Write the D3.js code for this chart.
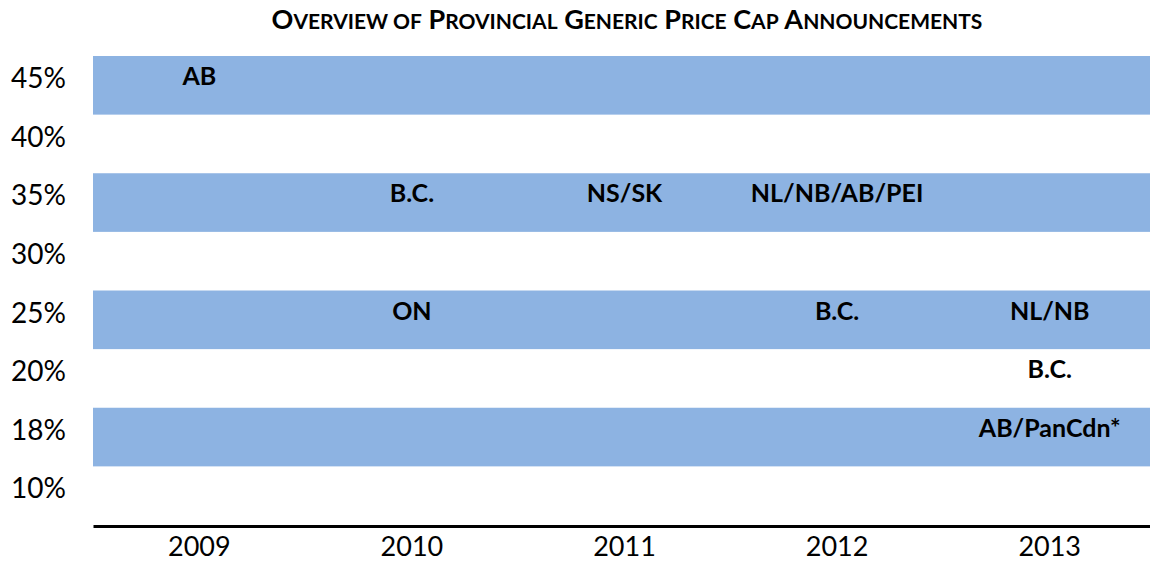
<!DOCTYPE html>
<html>
<head>
<meta charset="utf-8">
<script src="https://cdn.jsdelivr.net/npm/d3@7"></script>
<style>
  body { margin: 0; background: #fff; }
  text { font-family: Lato, "Open Sans", sans-serif; }
</style>
</head>
<body>
<div id="chart"></div>
<script>
const years = ["2009", "2010", "2011", "2012", "2013"];
const capLevels = ["45%", "40%", "35%", "30%", "25%", "20%", "18%", "10%"];
const shadedLevels = ["45%", "35%", "25%", "18%"];
const announcements = [
    { year: "2009", level: "45%", label: "AB" },
    { year: "2010", level: "35%", label: "B.C." },
    { year: "2011", level: "35%", label: "NS/SK" },
    { year: "2012", level: "35%", label: "NL/NB/AB/PEI" },
    { year: "2010", level: "25%", label: "ON" },
    { year: "2012", level: "25%", label: "B.C." },
    { year: "2013", level: "25%", label: "NL/NB" },
    { year: "2013", level: "20%", label: "B.C." },
    { year: "2013", level: "18%", label: "AB/PanCdn*" },
];
const titleWords = ["Overview", "of", "Provincial", "Generic", "Price", "Cap", "Announcements"];

const W = 1150, H = 565;
const svg = d3.select("#chart").append("svg").attr("width", W).attr("height", H);

const x = d3.scaleBand().domain(years).range([93, 1156]);
const y = d3.scaleBand().domain(capLevels).range([56, 525]);

// title in small caps, built by hand
const title = svg.append("text")
    .attr("x", 627)
    .attr("y", 29)
    .attr("text-anchor", "middle")
    .style("font-weight", "bold");
titleWords.forEach((w, i) => {
    const lead = w === "of" ? "" : w[0];
    const rest = (w === "of" ? w : w.slice(1)).toUpperCase();
    if (lead) title.append("tspan").style("font-size", "27px").text((i ? " " : "") + lead);
    title.append("tspan").style("font-size", "21px").text((!lead && i ? " " : "") + rest);
});

svg.append("g")
    .selectAll("rect")
    .data(shadedLevels)
    .enter()
    .append("rect")
    .attr("x", 93)
    .attr("y", (d) => y(d))
    .attr("width", W - 93)
    .attr("height", y.bandwidth())
    .attr("fill", "#8db3e2");

svg.append("g")
    .selectAll("text")
    .data(capLevels)
    .enter()
    .append("text")
    .attr("x", 66)
    .attr("y", (d) => y(d) + y.bandwidth() / 2 - 7)
    .attr("dy", "0.35em")
    .attr("text-anchor", "end")
    .style("font-size", "28px")
    .text((d) => d);

svg.append("g")
    .selectAll("text")
    .data(announcements)
    .enter()
    .append("text")
    .attr("x", (d) => x(d.year) + x.bandwidth() / 2)
    .attr("y", (d) => y(d.level) + y.bandwidth() / 2 - 9)
    .attr("dy", "0.35em")
    .attr("text-anchor", "middle")
    .style("font-size", "25px")
    .style("font-weight", "bold")
    .text((d) => d.label);

const xAxis = svg.append("g")
    .attr("transform", `translate(0, 526)`)
    .call(d3.axisBottom(x).tickSize(0).tickPadding(11));
xAxis.select(".domain").attr("stroke", "#000").attr("stroke-width", 3);
xAxis.selectAll("text")
    .style("font-family", "Lato, sans-serif")
    .style("font-size", "27px")
    .attr("fill", "#000");
</script>
</body>
</html>
